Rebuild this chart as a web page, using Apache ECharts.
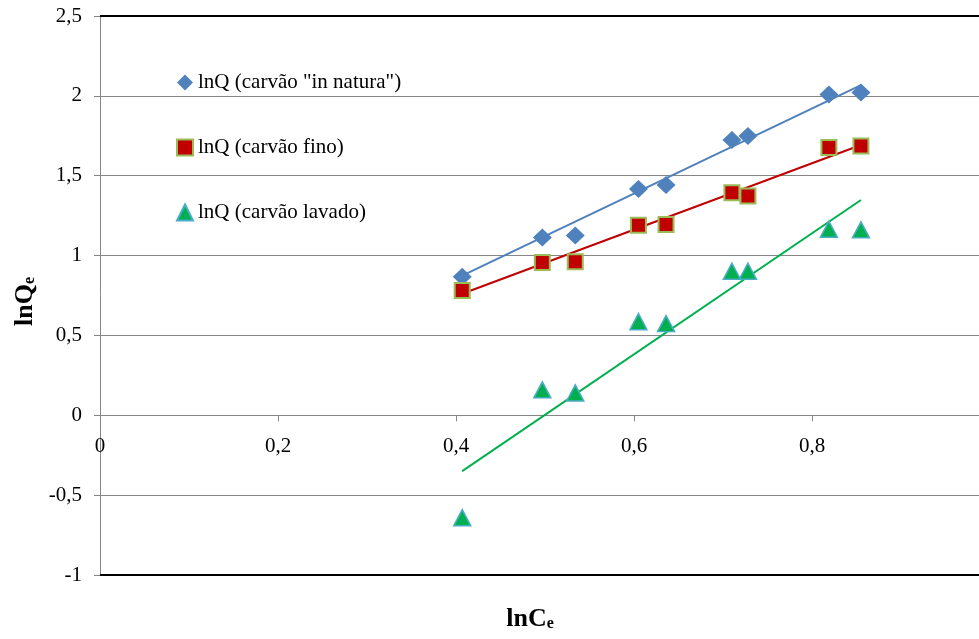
<!DOCTYPE html>
<html>
<head>
<meta charset="utf-8">
<script src="https://cdn.jsdelivr.net/npm/echarts@6/dist/echarts.min.js"></script>
<style>
  html, body { margin: 0; padding: 0; background: #fff; }
  #chart { width: 979px; height: 639px; }
</style>
</head>
<body>
<div id="chart"></div>
<script>
// ---- Data ----
const lnCe = [0.407, 0.497, 0.534, 0.605, 0.636, 0.710, 0.728, 0.819, 0.855];
const lnQNatura = [0.868, 1.113, 1.126, 1.417, 1.442, 1.723, 1.748, 2.009, 2.021];
const lnQFino = [0.781, 0.957, 0.961, 1.190, 1.194, 1.394, 1.373, 1.677, 1.686];
const lnQLavado = [-0.641, 0.159, 0.140, 0.586, 0.574, 0.902, 0.902, 1.165, 1.161];

// trend line end points (x, y)
const trendX = [0.407, 0.855];
const trendNatura = [0.875, 2.067];
const trendFino = [0.761, 1.692];
const trendLavado = [-0.350, 1.348];

const seriesNames = ['lnQ (carvão "in natura")', 'lnQ (carvão fino)', 'lnQ (carvão lavado)'];
const xTicks = { min: 0, max: 1, interval: 0.2 };
const yTicks = { min: -1, max: 2.5, interval: 0.5 };

const pairs = (xs, ys) => xs.map((x, i) => [x, ys[i]]);
const fmt = v => String(v).replace('.', ',');
const FONT = '"Liberation Serif", "Times New Roman", serif';

const CHART_H = 639, GRID_TOP = 16, GRID_BOTTOM = 64;
const gridH = CHART_H - GRID_TOP - GRID_BOTTOM;
// x axis crosses the value axis at y = 0
const xAxisOffset = -gridH * (0 - yTicks.min) / (yTicks.max - yTicks.min);

const titleRich = {
  a: { fontFamily: FONT, fontSize: 26, fontWeight: 'bold', color: '#000', lineHeight: 26 },
  b: { fontFamily: FONT, fontSize: 16, fontWeight: 'bold', color: '#000', lineHeight: 2, verticalAlign: 'bottom' }
};

const chart = echarts.init(document.getElementById('chart'));
chart.setOption({
  animation: false,
  backgroundColor: '#ffffff',
  grid: { left: 100, right: -11, top: GRID_TOP, bottom: GRID_BOTTOM, containLabel: false, outerBoundsMode: 'none' },
  legend: {
    data: seriesNames,
    orient: 'vertical',
    left: 171,
    top: 67,
    itemGap: 44,
    itemWidth: 16,
    itemHeight: 16,
    textStyle: { fontFamily: FONT, fontSize: 21, color: '#000' }
  },
  xAxis: {
    type: 'value',
    position: 'bottom',
    offset: xAxisOffset,
    min: xTicks.min, max: xTicks.max, interval: xTicks.interval,
    axisLine: { onZero: false, lineStyle: { color: '#868686', width: 1 } },
    axisTick: { show: true, length: 6, lineStyle: { color: '#868686' } },
    axisLabel: { formatter: fmt, fontFamily: FONT, fontSize: 21, color: '#000', margin: 21 },
    splitLine: { show: false },
    name: '{a|lnC}{b|e}',
    nameLocation: 'middle',
    nameGap: 191,
    nameTextStyle: { padding: [0, 30, 0, 0], rich: titleRich }
  },
  yAxis: {
    type: 'value',
    min: yTicks.min, max: yTicks.max, interval: yTicks.interval,
    axisLine: { show: true, onZero: false, lineStyle: { color: '#868686', width: 1 } },
    axisTick: { show: true, length: 6, lineStyle: { color: '#868686' } },
    axisLabel: { formatter: fmt, fontFamily: FONT, fontSize: 21, color: '#000', margin: 18 },
    splitLine: { show: true, lineStyle: { color: '#868686', width: 1 } },
    name: '{a|lnQ}{b|e}',
    nameLocation: 'middle',
    nameRotate: 90,
    nameGap: 62,
    nameTextStyle: { padding: [0, 12, 0, 0], rich: titleRich }
  },
  series: [
    {
      name: 'border', type: 'line', data: [], silent: true,
      markLine: {
        silent: true, symbol: 'none', label: { show: false },
        lineStyle: { color: '#000', width: 2, type: 'solid' },
        data: [{ yAxis: yTicks.max }, { yAxis: yTicks.min }]
      }
    },
    {
      name: 'trendNatura', type: 'line', data: pairs(trendX, trendNatura),
      symbol: 'none', lineStyle: { color: '#4F81BD', width: 2 }, z: 2, silent: true
    },
    {
      name: 'trendFino', type: 'line', data: pairs(trendX, trendFino),
      symbol: 'none', lineStyle: { color: '#C00000', width: 2 }, z: 2, silent: true
    },
    {
      name: 'trendLavado', type: 'line', data: pairs(trendX, trendLavado),
      symbol: 'none', lineStyle: { color: '#00B050', width: 2 }, z: 2, silent: true
    },
    {
      name: seriesNames[0], type: 'scatter', data: pairs(lnCe, lnQNatura),
      symbol: 'diamond', symbolSize: [19, 18], z: 3,
      itemStyle: { color: '#4F81BD', opacity: 1 }
    },
    {
      name: seriesNames[1], type: 'scatter', data: pairs(lnCe, lnQFino),
      symbol: 'rect', symbolSize: 15, z: 3,
      itemStyle: { color: '#C00000', borderColor: '#9BBB59', borderWidth: 2, opacity: 1 }
    },
    {
      name: seriesNames[2], type: 'scatter', data: pairs(lnCe, lnQLavado),
      symbol: 'triangle', symbolSize: [17, 16], z: 3,
      itemStyle: { color: '#00B050', borderColor: '#4BACC6', borderWidth: 1.5, opacity: 1 }
    }
  ]
});
</script>
</body>
</html>
